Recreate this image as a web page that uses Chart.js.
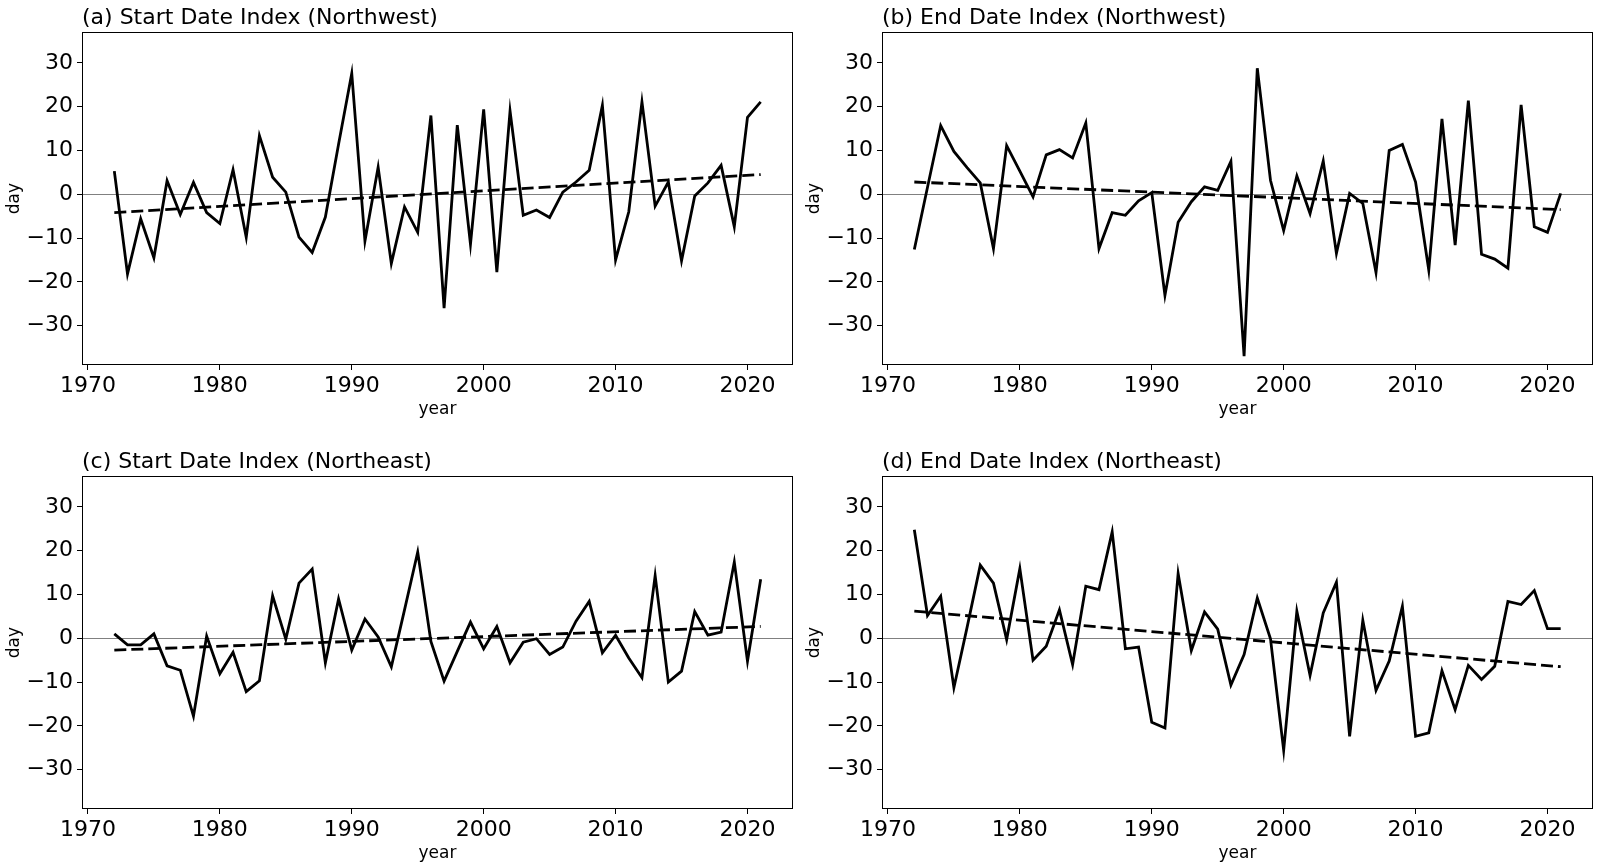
<!DOCTYPE html>
<html>
<head>
<meta charset="utf-8">
<script src="https://cdn.jsdelivr.net/npm/chart.js@4.4.0/dist/chart.umd.min.js"></script>
<style>
html, body { margin:0; padding:0; background:#fff; overflow:hidden; width:1599px; height:866px; }
canvas { position:absolute; }
</style>
</head>
<body>
<canvas id="chartA" width="800" height="444" style="left:0;top:0"></canvas>
<canvas id="chartB" width="800" height="444" style="left:800px;top:0"></canvas>
<canvas id="chartC" width="800" height="444" style="left:0;top:444px"></canvas>
<canvas id="chartD" width="800" height="444" style="left:800px;top:444px"></canvas>
<script>
const years = [1972,1973,1974,1975,1976,1977,1978,1979,1980,1981,
1982,1983,1984,1985,1986,1987,1988,1989,1990,1991,
1992,1993,1994,1995,1996,1997,1998,1999,2000,2001,
2002,2003,2004,2005,2006,2007,2008,2009,2010,2011,
2012,2013,2014,2015,2016,2017,2018,2019,2020,2021];

const startNW = [5.3,-18.2,-5.6,-14.5,3.1,-4.6,2.7,-4.2,-6.7,5.6,
-9.8,13.4,3.9,0.5,-9.8,-13.3,-5.2,11.4,27.6,-10.7,
6.2,-15.8,-2.9,-8.7,18.0,-26.0,15.8,-11.4,19.4,-17.8,
19.0,-4.8,-3.6,-5.3,0.5,2.8,5.5,20.3,-15.0,-4.0,
21.1,-2.7,2.8,-15.2,-0.4,2.6,6.6,-7.4,17.6,21.1];

const endNW = [-12.6,1.6,15.7,9.8,6.1,2.6,-12.4,11.1,5.3,-0.6,
9.0,10.2,8.3,16.3,-12.4,-4.2,-4.8,-1.5,0.4,-23.1,
-6.4,-1.7,1.7,0.9,7.5,-37.0,28.8,3.2,-8.3,4.2,
-4.4,7.6,-13.5,0.2,-2.1,-17.9,10.0,11.4,2.8,-17.3,
17.2,-11.6,21.4,-13.7,-14.8,-16.9,20.4,-7.4,-8.7,0.2];

const startNE = [1.0,-1.5,-1.5,1.0,-6.3,-7.3,-17.8,0.5,-8.1,-3.2,
-12.2,-9.7,9.7,-0.2,12.6,15.8,-5.6,9.0,-2.7,4.4,
0.3,-6.5,6.5,19.7,-0.7,-9.8,-3.0,3.7,-2.4,2.7,
-5.6,-0.9,-0.1,-3.7,-2.0,3.9,8.4,-3.3,0.7,-4.5,
-9.0,14.3,-10.0,-7.5,6.1,0.7,1.4,17.4,-5.2,13.5];

const endNE = [24.8,5.2,9.6,-11.3,2.5,16.7,12.6,-0.3,15.9,-5.0,
-1.8,6.5,-6.0,11.9,11.1,24.3,-2.4,-2.0,-19.2,-20.5,
14.8,-2.8,6.0,2.1,-10.7,-3.7,9.2,-0.1,-25.6,6.2,
-8.5,5.8,12.8,-22.4,4.1,-11.9,-5.2,7.3,-22.4,-21.6,
-7.4,-16.3,-6.2,-9.4,-6.4,8.4,7.7,10.9,2.2,2.2];

// trend line values at first and last year
const trendStartNW = [-4.2, 4.5];
const trendEndNW = [2.8, -3.5];
const trendStartNE = [-2.7, 2.7];
const trendEndNE = [6.2, -6.5];

const xTicks = [1970,1980,1990,2000,2010,2020];
const yTicks = [-30,-20,-10,0,10,20,30];

const FONT = "'DejaVu Sans', sans-serif";

const boxPlugin = {
  id: "box",
  afterDraw(chart){
    const a = chart.chartArea;
    const ctx = chart.ctx;
    ctx.save();
    ctx.strokeStyle = "#000";
    ctx.lineWidth = 1;
    ctx.strokeRect(Math.round(a.left) + 0.5, Math.round(a.top) + 0.5,
      Math.round(a.right - a.left) - 1, Math.round(a.bottom - a.top) - 1);
    ctx.restore();
  }
};

function makeChart(id, title, values, trend){
  const n = years.length;
  return new Chart(document.getElementById(id), {
    type: "line",
    data: {
      datasets: [
        {
          data: values.map((v, i) => ({ x: years[i], y: v })),
          borderColor: "#000",
          borderWidth: 2.8,
          pointRadius: 0,
          tension: 0
        },
        {
          data: [{ x: years[0], y: trend[0] }, { x: years[n - 1], y: trend[1] }],
          borderColor: "#000",
          borderWidth: 2.8,
          borderDash: [12, 5],
          pointRadius: 0
        }
      ]
    },
    options: {
      responsive: false,
      animation: false,
      events: [],
      layout: { padding: { left: 0, right: 7, top: 0, bottom: 0 } },
      plugins: {
        legend: { display: false },
        tooltip: { enabled: false },
        title: {
          display: true,
          text: title,
          align: "start",
          fullSize: false,
          color: "#000",
          font: { family: FONT, size: 22, weight: "normal", lineHeight: 1.2 },
          padding: { top: 4.7, bottom: 1.2 }
        }
      },
      scales: {
        x: {
          type: "linear",
          min: 1969.55,
          max: 2023.45,
          afterBuildTicks: s => { s.ticks = xTicks.map(v => ({ value: v })); },
          afterFit: s => { s.height = 79; },
          grid: { drawOnChartArea: false, tickLength: 5, tickColor: "#000", tickWidth: 1 },
          border: { display: false },
          ticks: {
            color: "#000",
            font: { family: FONT, size: 22 },
            padding: 3,
            maxRotation: 0,
            autoSkip: false,
            callback: v => String(v)
          },
          title: {
            display: true,
            text: "year",
            color: "#000",
            font: { family: FONT, size: 17 },
            padding: { top: 0, bottom: 24.5 }
          }
        },
        y: {
          min: -39,
          max: 37,
          afterBuildTicks: s => { s.ticks = yTicks.map(v => ({ value: v })); },
          afterFit: s => { s.width = 82; },
          grid: {
            color: c => (c.tick && c.tick.value === 0) ? "#808080" : "rgba(0,0,0,0)",
            lineWidth: 1,
            tickLength: 5,
            tickColor: "#000",
            tickWidth: 1
          },
          border: { display: false },
          ticks: {
            color: "#000",
            font: { family: FONT, size: 22 },
            padding: 4,
            callback: v => String(v).replace("-", "\u2212")
          },
          title: {
            display: true,
            text: "day",
            color: "#000",
            font: { family: FONT, size: 17 },
            padding: { top: 4, bottom: 0 }
          }
        }
      }
    },
    plugins: [boxPlugin]
  });
}

makeChart("chartA", "(a) Start Date Index (Northwest)", startNW, trendStartNW);
makeChart("chartB", "(b) End Date Index (Northwest)", endNW, trendEndNW);
makeChart("chartC", "(c) Start Date Index (Northeast)", startNE, trendStartNE);
makeChart("chartD", "(d) End Date Index (Northeast)", endNE, trendEndNE);
</script>
</body>
</html>
